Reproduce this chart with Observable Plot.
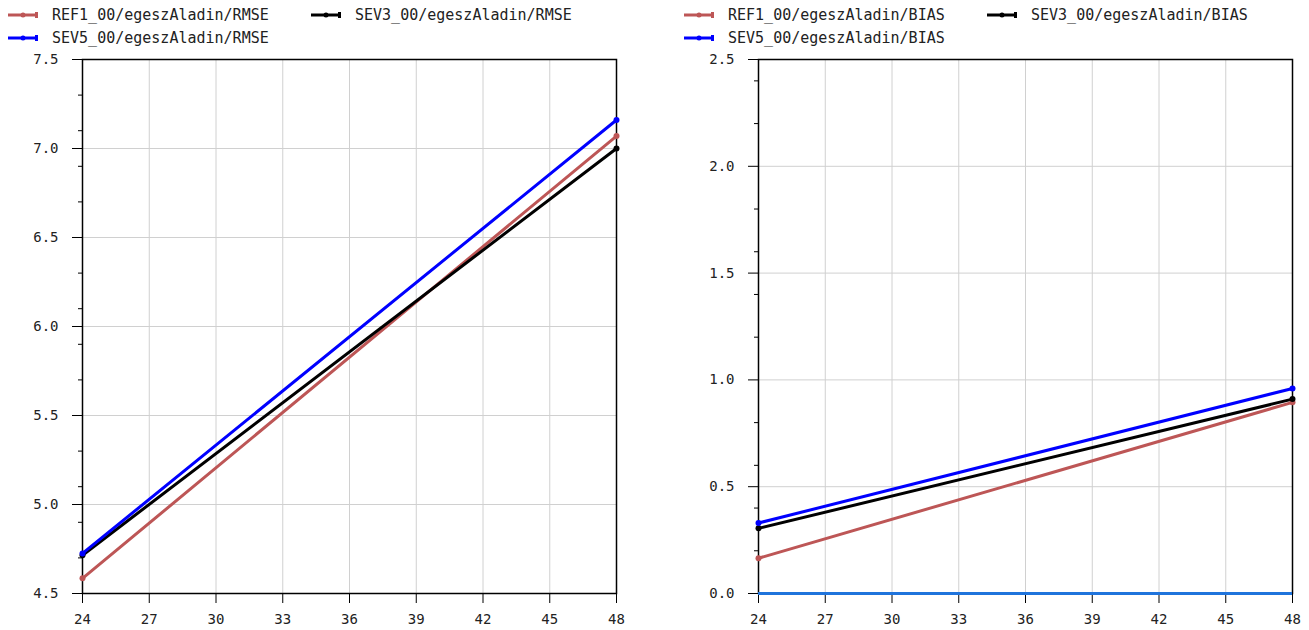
<!DOCTYPE html>
<html>
<head>
<meta charset="utf-8">
<script src="https://cdn.jsdelivr.net/npm/d3@7"></script>
<script src="https://cdn.jsdelivr.net/npm/@observablehq/plot@0.6"></script>
<style>
  html, body { margin: 0; padding: 0; background: #fff; }
  body { width: 1309px; height: 630px; position: relative; overflow: hidden; font-family: "DejaVu Sans Mono", monospace; }
  .panel { position: absolute; top: 0; width: 633px; height: 630px; }
  .legend { position: absolute; left: 0; top: 0; width: 633px; height: 50px; font-size: 15px; color: #222; }
  .item { position: absolute; display: flex; align-items: center; white-space: nowrap; }
  .item svg { margin-right: 13px; }
  .chart { position: absolute; left: 0; top: 50px; }
</style>
</head>
<body>
<div id="p1" class="panel" style="left:0px"></div>
<div id="p2" class="panel" style="left:676px"></div>
<script>
// ---- data ----
const hours = [24, 48];
const seriesNames = ["REF1_00", "SEV3_00", "SEV5_00"];
const seriesColors = ["#bd5656", "#000000", "#0000ff"];
const rmseRef1 = [4.585, 7.07];
const rmseSev3 = [4.715, 7.0];
const rmseSev5 = [4.725, 7.16];
const biasRef1 = [0.165, 0.895];
const biasSev3 = [0.305, 0.91];
const biasSev5 = [0.33, 0.96];
const xTicks = [24, 27, 30, 33, 36, 39, 42, 45, 48];
const rmseTicks = [4.5, 5.0, 5.5, 6.0, 6.5, 7.0, 7.5];
const rmseMinor = [4.7, 4.9, 5.1, 5.3, 5.7, 5.9, 6.1, 6.3, 6.7, 6.9, 7.1, 7.3];
const biasTicks = [0.0, 0.5, 1.0, 1.5, 2.0, 2.5];
const biasMinor = [0.2, 0.4, 0.6, 0.8, 1.2, 1.4, 1.6, 1.8, 2.2, 2.4];

function rows(values) {
  const out = [];
  values.forEach((vals, i) => hours.forEach((h, j) => out.push({series: seriesNames[i], hour: h, value: vals[j]})));
  return out;
}

function legend(container, metric) {
  const lg = document.createElement("div");
  lg.className = "legend";
  const pos = [[7, 15], [310, 15], [7, 38]];
  seriesNames.forEach((name, i) => {
    const it = document.createElement("div");
    it.className = "item";
    it.style.left = pos[i][0] + "px";
    it.style.top = (pos[i][1] - 9) + "px";
    const c = seriesColors[i];
    it.innerHTML = `<svg width="32" height="10"><line x1="1" y1="5" x2="31" y2="5" stroke="${c}" stroke-width="3"/><circle cx="16" cy="5" r="2.5" fill="${c}"/><rect x="28" y="2" width="3" height="6" fill="${c}"/></svg><span>${name}/egeszAladin/${metric}</span>`;
    lg.appendChild(it);
  });
  container.appendChild(lg);
}

function chart(container, data, domain, majors, minors, zeroLine) {
  const marks = [
    Plot.gridX(xTicks, {stroke: "#d0d0d0", strokeOpacity: 1}),
    Plot.gridY(majors, {stroke: "#d0d0d0", strokeOpacity: 1}),
    Plot.axisX(xTicks, {tickSize: 10, tickPadding: 11, fontSize: 14, stroke: "#000", label: null, tickFormat: d => String(d)}),
    Plot.axisY(majors, {tickSize: 10, tickPadding: 14, fontSize: 14, stroke: "#000", label: null, tickFormat: d3.format(".1f")}),
    Plot.axisY(minors, {tickSize: 4, label: null, tickFormat: () => "", stroke: "#000"}),
    Plot.frame({stroke: "#000", strokeWidth: 1.5})
  ];
  if (zeroLine) marks.push(Plot.ruleY([0], {stroke: "#1f74dc", strokeWidth: 3}));
  marks.push(
    Plot.line(data, {x: "hour", y: "value", stroke: "series", strokeWidth: 3}),
    Plot.dot(data, {x: "hour", y: "value", fill: "series", r: 3})
  );
  const svg = Plot.plot({
    width: 633,
    height: 580,
    marginLeft: 82,
    marginRight: 17,
    marginTop: 9,
    marginBottom: 37,
    style: {fontFamily: "DejaVu Sans Mono, monospace", color: "#222", fontSize: "14px", background: "#fff", overflow: "visible"},
    x: {domain: [24, 48]},
    y: {domain},
    color: {domain: seriesNames, range: seriesColors},
    marks
  });
  svg.classList.add("chart");
  container.appendChild(svg);
}

const p1 = document.getElementById("p1");
const p2 = document.getElementById("p2");
legend(p1, "RMSE");
legend(p2, "BIAS");
chart(p1, rows([rmseRef1, rmseSev3, rmseSev5]), [4.5, 7.5], rmseTicks, rmseMinor, false);
chart(p2, rows([biasRef1, biasSev3, biasSev5]), [0, 2.5], biasTicks, biasMinor, true);
</script>
</body>
</html>
